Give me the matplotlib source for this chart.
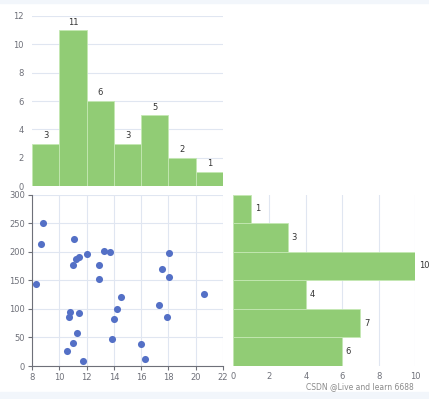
import matplotlib.pyplot as plt

# scatter data
x_vals = [8.83, 8.63, 8.32, 11.11, 11.01, 11.23, 11.45, 12.03, 12.91, 12.91,
          13.30, 13.71, 14.54, 14.22, 14.03, 13.83, 10.82, 10.72, 11.43, 11.33,
          11.01, 10.53, 11.72, 16.02, 16.31, 17.33, 17.53, 18.04, 18.04, 17.92,
          20.62]
y_vals = [251, 214, 143, 222, 176, 188, 191, 196, 177, 153,
          201, 199, 121, 99, 82, 48, 94, 86, 92, 58,
          40, 27, 9, 38, 13, 106, 169, 197, 156, 85,
          126]

# histogram counts (labels on the bars)
x_bin_edges = [8, 10, 12, 14, 16, 18, 20, 22]
x_counts = [3, 11, 6, 3, 5, 2, 1]
y_bin_edges = [0, 50, 100, 150, 200, 250, 300]
y_counts = [6, 7, 4, 10, 3, 1]

GREEN = "#91cc75"
BLUE = "#5470c6"
GRID = "#e0e6f1"
AXIS = "#6e7079"
TEXT = "#333333"

plt.rcParams["font.family"] = ["DejaVu Sans"]

fig = plt.figure(figsize=(4.29, 3.99), dpi=100)
fig.patch.set_facecolor("white")

# light strips at top and bottom of the screenshot
fig.patches.append(plt.Rectangle((0, 0), 1, 7 / 399, transform=fig.transFigure,
                                 color="#f2f6fb", zorder=0))
fig.patches.append(plt.Rectangle((0, 1 - 3 / 399), 1, 3 / 399, transform=fig.transFigure,
                                 color="#f2f6fb", zorder=0))

ax_top = fig.add_axes([0.0746, 0.5338, 0.4452, 0.4261])
ax_sc = fig.add_axes([0.0746, 0.0827, 0.4452, 0.4298])
ax_right = fig.add_axes([0.5431, 0.0827, 0.4243, 0.4298])

# top histogram
widths = [x_bin_edges[i + 1] - x_bin_edges[i] for i in range(len(x_counts))]
bars = ax_top.bar(x_bin_edges[:-1], x_counts, width=widths, align="edge",
                  color=GREEN, edgecolor="#c4e8b3", linewidth=0.6, zorder=2)
for rect, c in zip(bars, x_counts):
    ax_top.text(rect.get_x() + rect.get_width() / 2, c + 0.25, str(c),
                ha="center", va="bottom", fontsize=6, color=TEXT)
ax_top.set_xlim(8, 22)
ax_top.set_ylim(0, 12)
ax_top.set_yticks(range(0, 13, 2))
ax_top.set_xticks([])
ax_top.grid(axis="y", color=GRID, linewidth=0.8, zorder=0)
for s in ax_top.spines.values():
    s.set_visible(False)
ax_top.tick_params(axis="y", length=0, labelsize=6, labelcolor=AXIS, pad=6)

# scatter
ax_sc.scatter(x_vals, y_vals, s=26, color=BLUE, zorder=3, linewidths=0)
ax_sc.set_xlim(8, 22)
ax_sc.set_ylim(0, 300)
ax_sc.set_xticks(range(8, 23, 2))
ax_sc.set_yticks(range(0, 301, 50))
ax_sc.grid(True, color=GRID, linewidth=0.8, zorder=0)
ax_sc.spines["top"].set_visible(False)
ax_sc.spines["right"].set_visible(False)
for side in ("left", "bottom"):
    ax_sc.spines[side].set_color(AXIS)
    ax_sc.spines[side].set_linewidth(0.8)
ax_sc.tick_params(labelsize=6, labelcolor=AXIS, color=AXIS, length=3, width=0.8, pad=2)

# right histogram
heights = [y_bin_edges[i + 1] - y_bin_edges[i] for i in range(len(y_counts))]
hbars = ax_right.barh(y_bin_edges[:-1], y_counts, height=heights, align="edge",
                      color=GREEN, edgecolor="#c4e8b3", linewidth=0.6, zorder=2)
for rect, c in zip(hbars, y_counts):
    ax_right.text(c + 0.2, rect.get_y() + rect.get_height() / 2, str(c),
                  ha="left", va="center", fontsize=6, color=TEXT)
ax_right.set_xlim(0, 10)
ax_right.set_ylim(0, 300)
ax_right.set_xticks(range(0, 11, 2))
ax_right.set_yticks([])
ax_right.grid(axis="x", color=GRID, linewidth=0.8, zorder=0)
for s in ax_right.spines.values():
    s.set_visible(False)
ax_right.tick_params(axis="x", length=0, labelsize=6, labelcolor=AXIS, pad=4)

fig.text(414 / 429, 1 - 387 / 399, "CSDN @Live and learn 6688", ha="right", va="center",
         fontsize=5.5, color="#8a8a8a")

fig.savefig("out.png", dpi=100)
